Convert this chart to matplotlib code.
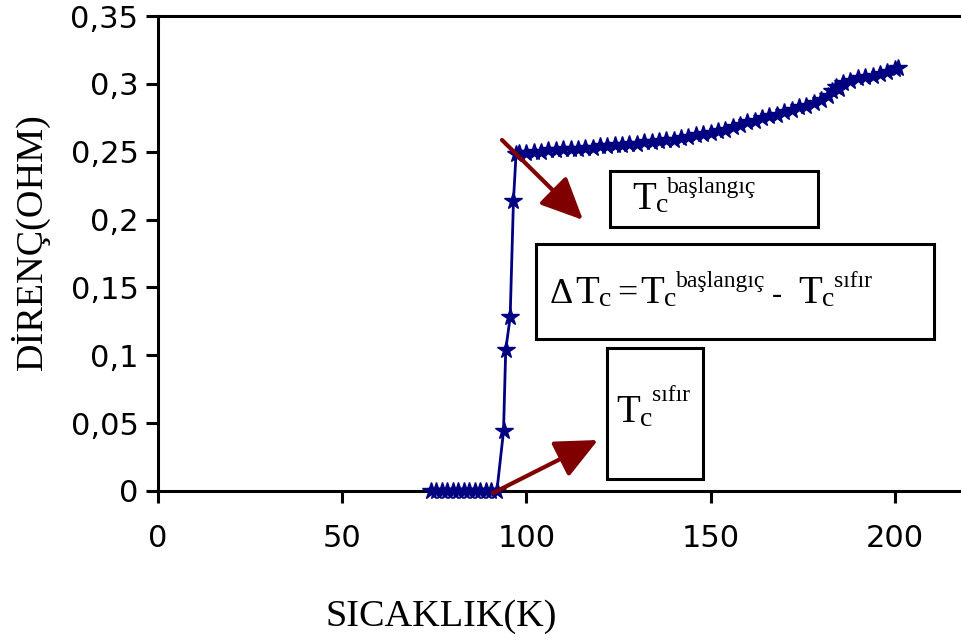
import numpy as np
import matplotlib.pyplot as plt

# veriler
sicaklik = [74, 75.5, 77, 78.5, 80, 81.5, 83, 84.5, 86, 87.5, 89, 90.5, 92,
            93.8, 94.4, 95.6, 96.5, 97.2,
            98, 100, 102, 104, 106, 108, 110, 112, 114, 116, 118, 120, 122, 124,
            126, 128, 130, 132, 134, 136, 138, 140, 142, 144, 146, 148, 150, 152,
            154, 156, 158, 160, 162, 164, 166, 168, 170, 172, 174, 176, 178, 180,
            182, 183, 184, 185, 186, 188, 190, 192, 194, 196, 198, 200, 201]
direnc = [0, 0, 0, 0, 0, 0, 0, 0, 0, 0, 0, 0, 0,
          0.044, 0.104, 0.128, 0.214, 0.248,
          0.249, 0.249, 0.250, 0.250, 0.251, 0.251, 0.252, 0.252, 0.252, 0.253,
          0.253, 0.254, 0.254, 0.255, 0.255, 0.256, 0.256, 0.257, 0.257, 0.258,
          0.259, 0.259, 0.260, 0.261, 0.262, 0.263, 0.264, 0.265, 0.266, 0.268,
          0.270, 0.272, 0.273, 0.275, 0.276, 0.277, 0.279, 0.281, 0.283, 0.284,
          0.286, 0.288, 0.291, 0.295, 0.298, 0.296, 0.301, 0.302, 0.304, 0.305,
          0.306, 0.307, 0.309, 0.311, 0.312]
xticks = [0, 50, 100, 150, 200]
yticks = [0, 0.05, 0.1, 0.15, 0.2, 0.25, 0.3, 0.35]

W, H = 961, 640
lacivert = '#000080'
bordo = '#800000'
serif = 'Liberation Serif'

fig = plt.figure(figsize=(W / 100, H / 100), dpi=100)
ax = fig.add_axes([158 / W, 1 - 491 / H, (W - 158) / W, (491 - 16) / H])

ax.plot(sicaklik, direnc, color=lacivert, lw=2, marker='*', ms=13,
        mec=lacivert, mfc=lacivert, clip_on=False, zorder=3)

ax.set_xlim(0, 218)
ax.set_ylim(0, 0.35)
ax.set_xticks(xticks)
ax.set_yticks(yticks)
ax.set_xticklabels([str(v) for v in xticks])
ax.set_yticklabels([f"{v:g}".replace('.', ',') for v in yticks])
for s in ['left', 'bottom', 'top']:
    ax.spines[s].set_linewidth(2.2)
ax.spines['right'].set_visible(False)
ax.tick_params(axis='both', direction='out', length=8.6, width=2.2,
               labelsize=22, top=False, right=False)
ax.tick_params(axis='y', pad=5.5)
ax.tick_params(axis='x', pad=15)

# eksen basliklari
fig.text(30 / W, 1 - 242 / H, 'DİRENÇ(OHM)', rotation=90, ha='center',
         va='center', family=serif, fontsize=27.5)
fig.text(441 / W, 1 - 617 / H, 'SICAKLIK(K)', ha='center', va='center',
         family=serif, fontsize=27.5)


def yazi(x, y, s, boy):
    # piksel konumu (sol, taban cizgisi)
    fig.text(x / W, 1 - y / H, s, family=serif, fontsize=boy,
             ha='left', va='baseline')


def kutu(x0, y0, x1, y1):
    r = plt.Rectangle((x0 / W, 1 - y1 / H), (x1 - x0) / W, (y1 - y0) / H,
                      transform=fig.transFigure, fill=False, lw=2.2,
                      edgecolor='black')
    fig.patches.append(r)


# kutu 1: Tc baslangic
kutu(610, 171, 818, 227)
yazi(632, 209, 'T', 28)
yazi(656, 212, 'c', 20)
yazi(667, 193, 'başlangıç', 17)

# kutu 2: delta Tc
kutu(536, 244, 934, 339)
yazi(550, 303, 'Δ', 26)
yazi(575, 303, 'T', 28)
yazi(599, 306, 'c', 20)
yazi(617, 303, '=', 26)
yazi(640, 303, 'T', 28)
yazi(664, 306, 'c', 20)
yazi(676, 287, 'başlangıç', 17)
yazi(772, 303, '-', 22)
yazi(798, 303, 'T', 28)
yazi(822, 306, 'c', 20)
yazi(834, 287, 'sıfır', 17)

# kutu 3: Tc sifir
kutu(607, 348, 703, 479)
yazi(616, 422, 'T', 28)
yazi(640, 426, 'c', 20)
yazi(652, 401, 'sıfır', 17)

# oklar
oklar = [((502, 140), (583, 220)), ((493, 493), (598, 440))]
for (x0, y0), (x1, y1) in oklar:
    ax.annotate('', xy=(x1, H - y1), xycoords='figure pixels',
                xytext=(x0, H - y0), textcoords='figure pixels',
                arrowprops=dict(arrowstyle='-|>,head_length=1.3,head_width=0.6',
                                color=bordo, lw=3, mutation_scale=20,
                                shrinkA=0, shrinkB=0))

fig.savefig('out.png', dpi=100)
